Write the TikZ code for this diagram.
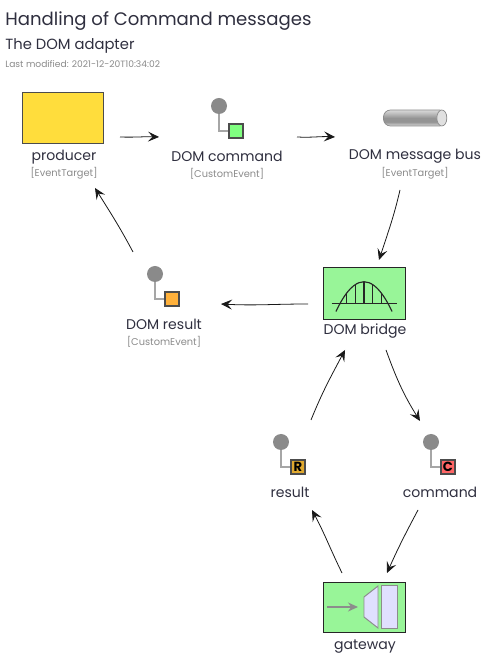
\documentclass[tikz,border=0pt]{standalone}
\usepackage{fontspec}
\setmainfont{Poppins}
\usepackage{xcolor}
\usetikzlibrary{shapes.geometric, arrows.meta, calc}
\definecolor{inkdark}{HTML}{2F2F3F}
\definecolor{inkgray}{HTML}{8A8A8A}
\definecolor{nodegreen}{HTML}{98F598}
\definecolor{resultgold}{HTML}{E0A92F}
\definecolor{eventorange}{HTML}{FFB13B}
\definecolor{producergold}{HTML}{FFDD3C}
\pgfdeclareverticalshading{busshade}{100bp}{color(0bp)=(black!15); color(25bp)=(black!15); color(38bp)=(black!42); color(50bp)=(black!42); color(65bp)=(black!25); color(75bp)=(black!15); color(100bp)=(black!15)}
\tikzset{
	block/.style={rectangle, draw=black!85, line width=0.5pt, minimum width=1.64cm, minimum height=1.04cm, inner sep=0pt},
	dot/.style={circle, fill=inkgray, minimum size=3.2mm, inner sep=0pt},
	msgbox/.style={rectangle, draw=black!70, line width=0.8pt, minimum size=2.8mm, inner sep=0pt},
	stem/.style={draw=black!35, line width=0.8pt},
	title/.style={text=inkdark, font=\fontsize{8}{9}\selectfont, inner sep=0pt},
	kind/.style={text=inkgray, font=\fontsize{5.6}{6}\selectfont, inner sep=0pt},
	line/.style={draw=black!90, line width=0.45pt, -{Stealth[length=2.2mm, width=2mm, inset=0.9mm]}}
}

\begin{document}
\begin{tikzpicture}
	\useasboundingbox (0,0) rectangle (10.06,13.36);
	
	% Title lines
	\node[title, anchor=west, font=\fontsize{10.3}{13}\selectfont] (heading) at (0.10,12.94) {Handling of Command messages};
	\node[title, anchor=west, font=\fontsize{8.4}{9}\selectfont] (subheading) at (0.10,12.44) {The DOM adapter};
	\node[kind, anchor=west, font=\fontsize{5.2}{6}\selectfont] (modified) at (0.10,12.07) {Last modified: 2021-12-20T10:34:02};
	
	% Top row
	\node[block, fill=producergold, draw=black!70, minimum height=1.02cm, minimum width=1.62cm] (producer) at (1.25,11.01) {};
	\node[title] (producer_label) at (1.28,10.21) {producer};
	\node[kind] (producer_kind) at (1.28,9.89) {[EventTarget]};
	
	\node[dot] (command_event_dot) at (4.38,11.24) {};
	\node[msgbox, fill=green!50!white] (command_event_box) at (4.72,10.74) {};
	\draw[stem] (command_event_dot) |- (command_event_box);
	\node[title] (command_event_label) at (4.54,10.23) {DOM command};
	\node[kind] (command_event_kind) at (4.54,9.89) {[CustomEvent]};
	
	\node[rectangle, rounded corners=1.4mm, draw=black!45, line width=0.4pt, shading=busshade, minimum width=1.26cm, minimum height=0.32cm, inner sep=0pt] (bus) at (8.30,11.00) {};
	\node[ellipse, draw=black!45, fill=black!12, line width=0.4pt, minimum width=0.2cm, minimum height=0.32cm, inner sep=0pt] (bus_end) at ($(bus.east)+(-0.10,0)$) {};
	\node[title] (bus_label) at (8.30,10.24) {DOM message bus};
	\node[kind] (bus_kind) at (8.30,9.89) {[EventTarget]};
	
	% Middle row
	\node[block, fill=nodegreen] (bridge) at (7.28,7.50) {};
	\node[title] (bridge_label) at (7.30,6.73) {DOM bridge};
	\begin{scope}[shift={(bridge.center)}, draw=black!85, line width=0.65pt]
		\draw (-0.65,-0.206) -- (0.65,-0.206); % deck
		\draw (-0.56,-0.37) parabola bend (0,0.226) (0.56,-0.37);
		\draw (-0.348,-0.206) -- (-0.348,-0.006);
		\draw (-0.174,-0.206) -- (-0.174,0.168);
		\draw (0,-0.206) -- (0,0.226);
		\draw (0.174,-0.206) -- (0.174,0.168);
		\draw (0.348,-0.206) -- (0.348,-0.006);
	\end{scope}
	
	\node[dot] (result_event_dot) at (3.10,7.88) {};
	\node[msgbox, fill=eventorange] (result_event_box) at (3.44,7.38) {};
	\draw[stem] (result_event_dot) |- (result_event_box);
	\node[title] (result_event_label) at (3.28,6.88) {DOM result};
	\node[kind] (result_event_kind) at (3.28,6.53) {[CustomEvent]};
	
	% Lower row
	\node[dot] (result_dot) at (5.62,4.52) {};
	\node[msgbox, fill=resultgold] (result_box) at (5.96,4.02) {\fontsize{7.5}{7.5}\selectfont\bfseries R};
	\draw[stem] (result_dot) |- (result_box);
	\node[title] (result_label) at (5.80,3.52) {result};
	
	\node[dot] (command_dot) at (8.62,4.52) {};
	\node[msgbox, fill=red!60!white] (command_box) at (8.96,4.02) {\fontsize{7.5}{7.5}\selectfont\bfseries C};
	\draw[stem] (command_dot) |- (command_box);
	\node[title] (command_label) at (8.80,3.52) {command};
	
	\node[block, fill=nodegreen, minimum height=1cm] (gateway) at (7.28,1.22) {};
	\node[title] (gateway_label) at (7.30,0.43) {gateway};
	\begin{scope}[shift={(gateway.center)}, draw=black!45, line width=0.55pt]
		\draw[fill=blue!12] (0,0.20) -- (0.28,0.42) -- (0.28,-0.42) -- (0,-0.20) -- cycle;
		\draw[fill=blue!12] (0.34,-0.42) rectangle (0.66,0.44);
		\draw[line width=0.8pt, -{Stealth[length=2mm, width=1.8mm]}] (-0.74,0) -- (-0.12,0);
	\end{scope}
	
	% Connectors
	\draw[line] ($(producer)+(1.15,-0.39)$) to[out=-2,in=178] ($(command_event_dot)+(-1.20,-0.62)$);
	\draw[line] ($(command_event_box)+(1.22,-0.12)$) to[out=-3,in=177] ($(bus)+(-1.60,-0.38)$);
	\draw[line] ($(bus_kind)+(-0.30,-0.33)$) to[out=-103,in=72] ($(bridge)+(0.30,0.66)$);
	\draw[line] ($(bridge)+(-1.12,-0.22)$) to[out=180,in=-3] ($(result_event_box)+(0.98,-0.10)$);
	\draw[line] ($(result_event_dot)+(-0.44,0.44)$) to[out=118,in=-58] ($(producer_kind)+(0.62,-0.29)$);
	\draw[line] ($(bridge_label)+(0.42,-0.37)$) to[out=-70,in=122] ($(command_dot)+(-0.22,0.42)$);
	\draw[line] ($(result_dot)+(0.60,0.44)$) to[out=68,in=-118] ($(bridge_label)+(-0.40,-0.37)$);
	\draw[line] ($(command_label)+(-0.44,-0.36)$) to[out=-118,in=66] ($(gateway)+(0.46,0.68)$);
	\draw[line] ($(gateway)+(-0.44,0.68)$) to[out=116,in=-62] ($(result_label)+(0.44,-0.36)$);
	
\end{tikzpicture}
\end{document}
